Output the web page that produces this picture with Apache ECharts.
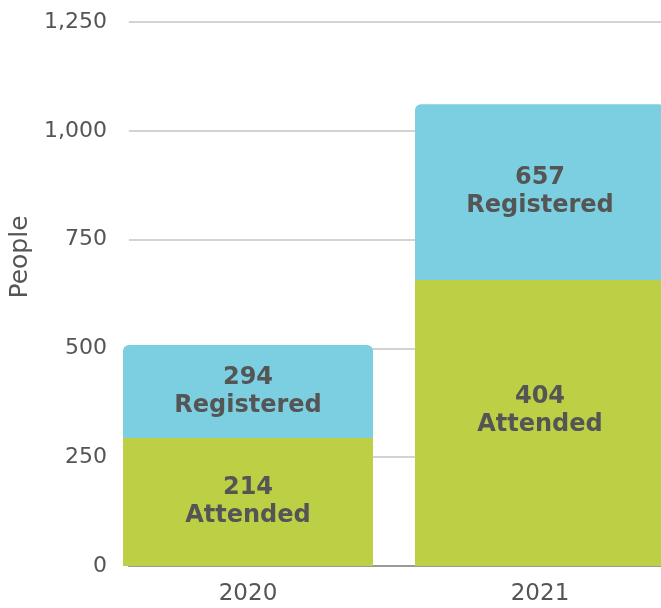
<!DOCTYPE html>
<html>
<head>
<meta charset="utf-8">
<script src="https://cdn.jsdelivr.net/npm/echarts@6/dist/echarts.min.js"></script>
<style>
  html, body { margin: 0; padding: 0; background: #fff; overflow: hidden; }
  /* the source chart runs past the right edge of the frame */
  #chart { width: 690px; height: 608px; }
</style>
</head>
<body>
<div id="chart"></div>
<script>
// Data
const years = ['2020', '2021']
const attended = [214, 404]
const registered = [294, 657]
// the source chart stacks the segments with the numbers swapped:
// lower (green) segment height = registered, upper (blue) = attended
const lowerHeights = registered
const upperHeights = attended

const yMax = 1250
const yStep = 250

const FONT = '"DejaVu Sans", sans-serif'
const textColor = '#555'

const chart = echarts.init(document.getElementById('chart'))

const labelStyle = {
  show: true,
  position: 'inside',
  color: textColor,
  fontFamily: FONT,
  fontWeight: 'bold',
  fontSize: 24,
  lineHeight: 28,
}

chart.setOption({
  animation: false,
  textStyle: { fontFamily: FONT },
  grid: [
    // grid for the value axis, gridlines and baseline
    { left: 123, right: 0, top: 22, bottom: 42 },
    // grid for the category bands
    { left: 102, right: 4, top: 22, bottom: 42 },
  ],
  xAxis: [
    {
      gridIndex: 0,
      type: 'value',
      min: 0,
      max: 1,
      axisLine: { show: true, lineStyle: { color: '#999', width: 2 } },
      axisTick: { show: false },
      axisLabel: { show: false },
      splitLine: { show: false },
    },
    {
      gridIndex: 1,
      type: 'category',
      data: years,
      axisLine: { show: false },
      axisTick: { show: false },
      axisLabel: { color: textColor, fontSize: 23, margin: 17 },
    },
  ],
  yAxis: [
    {
      gridIndex: 0,
      type: 'value',
      min: 0,
      max: yMax,
      interval: yStep,
      name: 'People',
      nameLocation: 'middle',
      nameGap: 93,
      nameTextStyle: { color: textColor, fontSize: 25, padding: [0, 0, 0, 74] },
      axisLine: { show: false },
      axisTick: { show: false },
      axisLabel: { color: textColor, fontSize: 22, margin: 22 },
      splitLine: { lineStyle: { color: '#d3d3d3', width: 2 } },
    },
    {
      gridIndex: 1,
      type: 'value',
      min: 0,
      max: yMax,
      interval: yStep,
      show: false,
      splitLine: { show: false },
    },
  ],
  series: [
    {
      name: 'Attended',
      type: 'bar',
      xAxisIndex: 1,
      yAxisIndex: 1,
      stack: 'people',
      barWidth: 250,
      // the tall 2021 label sits a little above the middle in the source
      data: lowerHeights.map((v, i) => i === 1 ? { value: v, label: { offset: [0, -12] } } : v),
      itemStyle: { color: '#bdcf45' },
      label: {
        ...labelStyle,
        formatter: p => attended[p.dataIndex] + '\nAttended',
      },
    },
    {
      name: 'Registered',
      type: 'bar',
      xAxisIndex: 1,
      yAxisIndex: 1,
      stack: 'people',
      barWidth: 250,
      data: upperHeights,
      itemStyle: { color: '#7bcfe0', borderRadius: [6, 6, 0, 0] },
      label: {
        ...labelStyle,
        formatter: p => registered[p.dataIndex] + '\nRegistered',
      },
    },
  ],
})
</script>
</body>
</html>
